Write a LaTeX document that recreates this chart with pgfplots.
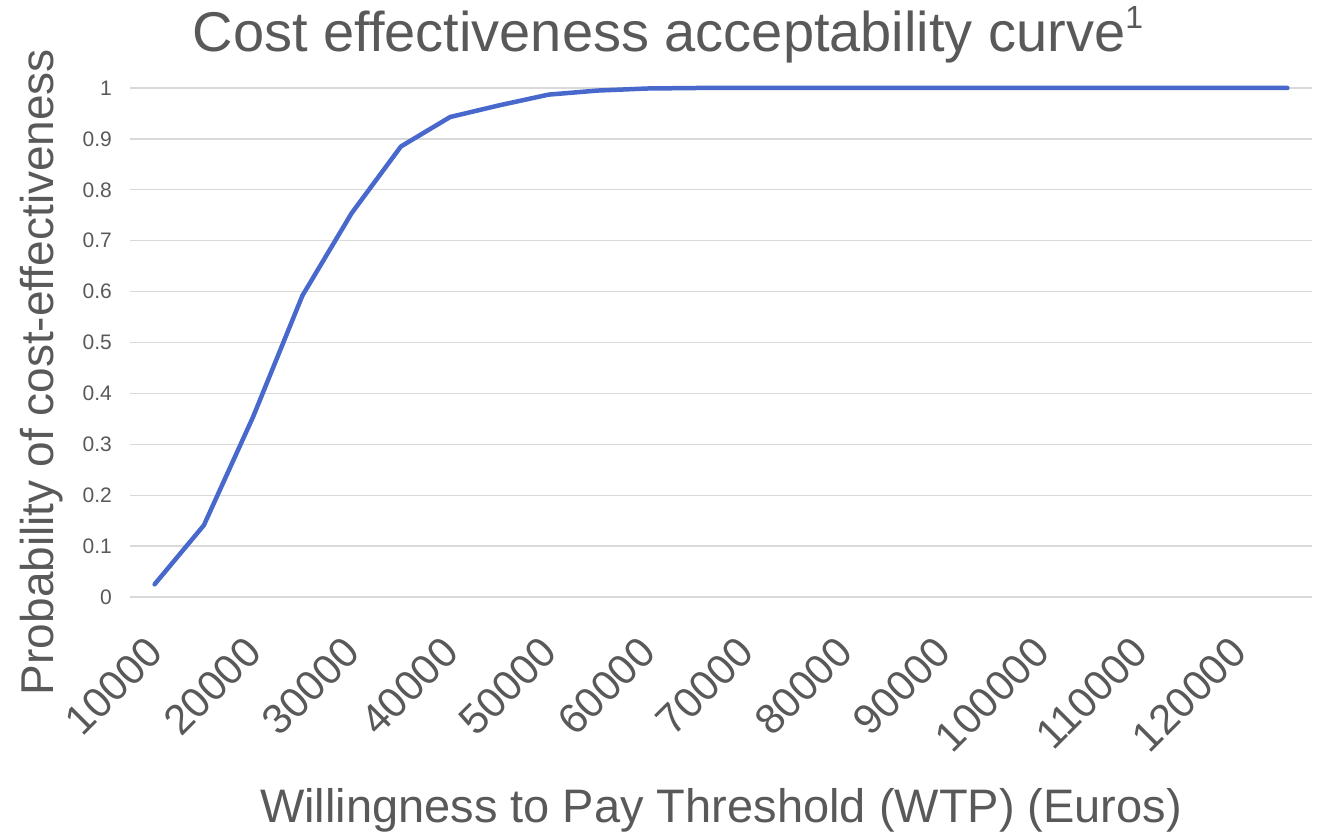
\documentclass[border=0pt]{standalone}
\usepackage{pgfplots}
\pgfplotsset{compat=1.18}
\usepackage{fontspec}
\setmainfont{Liberation Sans}
\definecolor{txtgray}{RGB}{89,89,89}
\definecolor{gridgray}{RGB}{217,217,217}
\definecolor{ceacblue}{RGB}{72,104,204}

\begin{document}
\begin{tikzpicture}
\path[use as bounding box] (-130bp,-239bp) rectangle (1189bp,597bp);
\begin{axis}[
  at={(0,0)}, anchor=origin,
  scale only axis,
  width=1182bp, height=509bp,
  xmin=7500, xmax=127500,
  ymin=0, ymax=1,
  axis line style={draw=none},
  major tick length=0pt,
  ymajorgrids,
  grid style={gridgray, line width=1.4bp},
  scaled x ticks=false,
  xtick={10000,20000,30000,40000,50000,60000,70000,80000,90000,100000,110000,120000},
  xticklabels={10000,20000,30000,40000,50000,60000,70000,80000,90000,100000,110000,120000},
  ytick={0,0.1,...,1.0},
  yticklabels={0,0.1,0.2,0.3,0.4,0.5,0.6,0.7,0.8,0.9,1},
  /pgf/number format/assume math mode=true,
  xticklabel style={font=\fontsize{42bp}{42bp}\selectfont, text=txtgray,
    xshift=-10bp, yshift=-37bp, rotate=45, anchor=north east, inner sep=0pt},
  yticklabel style={font=\fontsize{21bp}{21bp}\selectfont, text=txtgray,
    anchor=east, inner sep=0pt, xshift=-18bp},
  clip=false,
]
\addplot[ceacblue, line width=4.5bp, line join=round, line cap=round] coordinates {
  (10000,0.025) (15000,0.141) (20000,0.354) (25000,0.592) (30000,0.754)
  (35000,0.885) (40000,0.943) (45000,0.966) (50000,0.987) (55000,0.995)
  (60000,0.999) (65000,1) (70000,1) (75000,1) (80000,1) (85000,1)
  (90000,1) (95000,1) (100000,1) (105000,1) (110000,1) (115000,1)
  (120000,1) (125000,1)
};
\end{axis}
\node[anchor=base, text=txtgray, font=\fontsize{56bp}{56bp}\selectfont, inner sep=0pt]
  at (538bp,545bp) {Cost effectiveness acceptability curve\raisebox{0.42em}{\fontsize{32bp}{32bp}\selectfont 1}};
\node[anchor=base, text=txtgray, font=\fontsize{47bp}{47bp}\selectfont, inner sep=0pt]
  at (591bp,-225bp) {Willingness to Pay Threshold (WTP) (Euros)};
\node[rotate=90, anchor=center, text=txtgray, font=\fontsize{46bp}{46bp}\selectfont, inner sep=0pt]
  at (-88bp,225bp) {Probability of cost-effectiveness};
\end{tikzpicture}
\end{document}
